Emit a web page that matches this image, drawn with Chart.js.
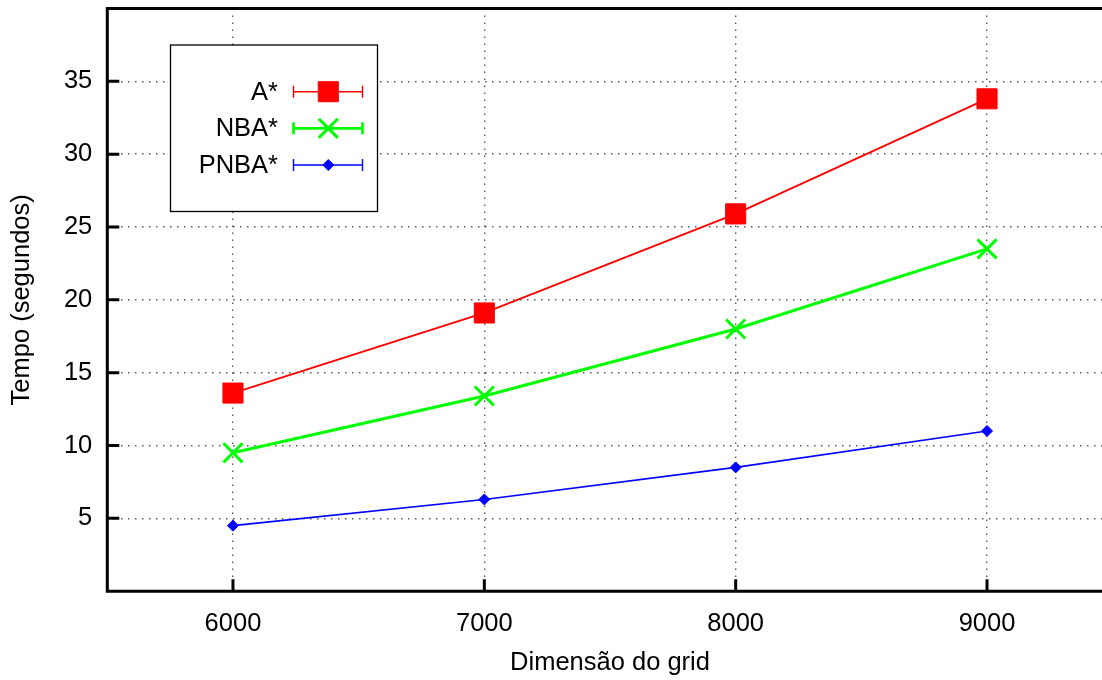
<!DOCTYPE html>
<html>
<head>
<meta charset="utf-8">
<style>
  html, body { margin: 0; padding: 0; background: #fff; overflow: hidden; width: 1102px; height: 680px; }
  canvas { display: block; }
</style>
<script src="https://cdn.jsdelivr.net/npm/chart.js@4/dist/chart.umd.min.js"></script>
</head>
<body>
<canvas id="c" width="1120" height="680" style="width:1120px;height:680px"></canvas>
<script>
// Grid sizes and measured run times (seconds)
const gridSizes = [6000, 7000, 8000, 9000];
const aStarTimes = [13.6, 19.1, 25.9, 33.8];
const nbaStarTimes = [9.5, 13.4, 18.0, 23.5];
const pnbaStarTimes = [4.5, 6.3, 8.5, 11.0];

// Tick values and axis titles
const xTickValues = [6000, 7000, 8000, 9000];
const yTickValues = [5, 10, 15, 20, 25, 30, 35];
const seriesNames = ['A*', 'NBA*', 'PNBA*'];
const xTitle = 'Dimensão do grid';
const yTitle = 'Tempo (segundos)';

const FONT = '"Liberation Sans", Arial, Helvetica, sans-serif';
const FONT_SIZE = 25.5;

const toPoints = (ys) => gridSizes.map((x, i) => ({ x: x, y: ys[i] }));

// Black frame with inward major ticks
const framePlugin = {
  id: 'frame',
  afterDatasetsDraw(chart) {
    const { ctx, chartArea: a, scales } = chart;
    ctx.save();
    ctx.strokeStyle = '#000';
    ctx.lineWidth = 3;
    ctx.lineCap = 'square';
    ctx.beginPath();
    ctx.moveTo(a.left, a.top);
    ctx.lineTo(a.right, a.top);
    ctx.lineTo(a.right, a.bottom);
    ctx.lineTo(a.left, a.bottom);
    ctx.closePath();
    ctx.stroke();
    ctx.lineCap = 'butt';
    ctx.beginPath();
    scales.y.ticks.forEach(t => {
      const py = scales.y.getPixelForValue(t.value);
      ctx.moveTo(a.left, py);
      ctx.lineTo(a.left + 12, py);
    });
    scales.x.ticks.forEach(t => {
      const px = scales.x.getPixelForValue(t.value);
      ctx.moveTo(px, a.bottom);
      ctx.lineTo(px, a.bottom - 12);
    });
    ctx.stroke();
    ctx.restore();
  }
};

// Boxed key with error-bar style samples
const keyPlugin = {
  id: 'key',
  afterDraw(chart) {
    const { ctx } = chart;
    const box = { x: 170.5, y: 45, w: 207, h: 166.5 };
    const rows = [91.7, 128.3, 165];
    ctx.save();
    ctx.fillStyle = '#fff';
    ctx.fillRect(box.x, box.y, box.w, box.h);
    ctx.strokeStyle = '#000';
    ctx.lineWidth = 1.3;
    ctx.strokeRect(box.x, box.y, box.w, box.h);
    ctx.font = FONT_SIZE + 'px ' + FONT;
    ctx.textAlign = 'right';
    ctx.textBaseline = 'middle';
    chart.data.datasets.forEach((ds, i) => {
      const y = rows[i];
      ctx.fillStyle = '#000';
      ctx.fillText(ds.label, 278, y + 1);
      const x0 = 293.5, x1 = 362.5;
      ctx.strokeStyle = ds.borderColor;
      ctx.lineWidth = ds.keyLineWidth;
      ctx.beginPath();
      ctx.moveTo(x0, y); ctx.lineTo(x1, y);
      ctx.moveTo(x0, y - 6); ctx.lineTo(x0, y + 6);
      ctx.moveTo(x1, y - 6); ctx.lineTo(x1, y + 6);
      ctx.stroke();
      ctx.fillStyle = ds.pointBackgroundColor;
      ctx.strokeStyle = ds.pointBorderColor;
      ctx.lineWidth = ds.pointBorderWidth;
      Chart.helpers.drawPoint(ctx, {
        pointStyle: ds.pointStyle, radius: ds.pointRadius,
        rotation: 0, borderWidth: ds.pointBorderWidth
      }, 328.3, y);
    });
    ctx.restore();
  }
};

new Chart(document.getElementById('c'), {
  type: 'line',
  data: {
    datasets: [
      {
        label: seriesNames[0], data: toPoints(aStarTimes),
        borderColor: '#ff0000', borderWidth: 1.8, keyLineWidth: 1.4,
        pointStyle: 'rect', pointRadius: 14.2, pointBorderWidth: 1,
        pointBackgroundColor: '#ff0000', pointBorderColor: '#ff0000'
      },
      {
        label: seriesNames[1], data: toPoints(nbaStarTimes),
        borderColor: '#00ff00', borderWidth: 3, keyLineWidth: 2.7,
        pointStyle: 'crossRot', pointRadius: 13.5, pointBorderWidth: 3,
        pointBackgroundColor: '#00ff00', pointBorderColor: '#00ff00'
      },
      {
        label: seriesNames[2], data: toPoints(pnbaStarTimes),
        borderColor: '#0000ff', borderWidth: 1.6, keyLineWidth: 1.4,
        pointStyle: 'rectRot', pointRadius: 5.5, pointBorderWidth: 1,
        pointBackgroundColor: '#0000ff', pointBorderColor: '#0000ff'
      }
    ]
  },
  options: {
    responsive: false,
    devicePixelRatio: 1,
    animation: false,
    events: [],
    layout: { autoPadding: false, padding: { top: 8.5, right: 7.3, left: 0, bottom: 0 } },
    elements: { line: { tension: 0, fill: false } },
    plugins: { legend: { display: false }, tooltip: { enabled: false } },
    scales: {
      x: {
        type: 'linear', min: 5500, max: 9500,
        afterBuildTicks: s => { s.ticks = xTickValues.map(v => ({ value: v })); },
        afterFit: s => { s.height = 680 - 591.2; s.paddingLeft = 0; s.paddingRight = 0; },
        ticks: { color: '#000', font: { family: FONT, size: FONT_SIZE }, padding: 17, autoSkip: false, maxRotation: 0, callback: v => String(v) },
        grid: { color: 'rgba(0,0,0,0.65)', lineWidth: 1.4, drawTicks: false },
        border: { display: false, dash: [1.5, 5.5] },
        title: { display: true, text: xTitle, color: '#000', font: { family: FONT, size: FONT_SIZE }, padding: { top: 0, bottom: 2 } }
      },
      y: {
        type: 'linear', min: 0, max: 40,
        afterBuildTicks: s => { s.ticks = yTickValues.map(v => ({ value: v })); },
        afterFit: s => { s.width = 107.3; s.paddingTop = 0; s.paddingBottom = 0; },
        ticks: { color: '#000', font: { family: FONT, size: FONT_SIZE }, padding: 15, autoSkip: false, callback: v => String(v) },
        grid: { color: 'rgba(0,0,0,0.65)', lineWidth: 1.4, drawTicks: false },
        border: { display: false, dash: [1.5, 5.5] },
        title: { display: true, text: yTitle, color: '#000', font: { family: FONT, size: FONT_SIZE }, padding: { top: 6.7, bottom: 0 } }
      }
    }
  },
  plugins: [framePlugin, keyPlugin]
});
</script>
</body>
</html>
